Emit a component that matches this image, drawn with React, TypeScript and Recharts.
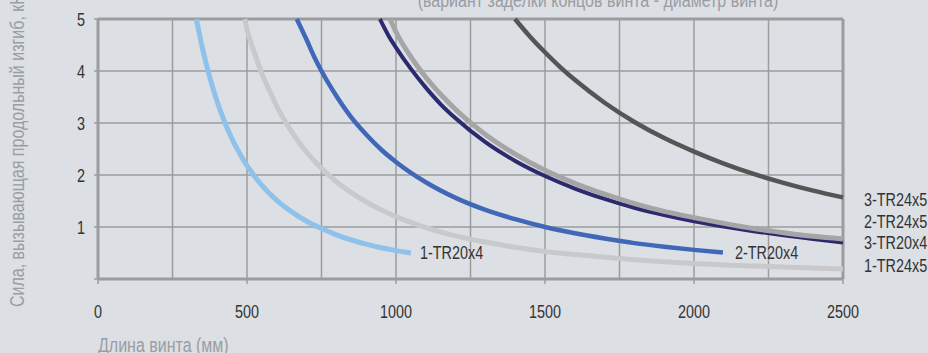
import { LineChart, Line, XAxis, YAxis, CartesianGrid, ReferenceLine } from "recharts";

// Buckling force (kN) vs screw length (mm).
const len1TR20x4 = [330, 350, 375, 400, 425, 450, 475, 500, 550, 600, 650, 700, 750, 800, 850, 900, 950, 1000, 1050];
const force1TR20x4 = [5.0, 4.45, 3.88, 3.41, 3.02, 2.69, 2.42, 2.18, 1.8, 1.51, 1.29, 1.11, 0.97, 0.85, 0.75, 0.67, 0.6, 0.545, 0.5];

const len1TR24x5 = [493, 500, 525, 550, 575, 600, 650, 700, 750, 800, 850, 900, 950, 1000, 1100, 1200, 1300, 1400, 1500, 1600, 1700, 1800, 1900, 2000, 2100, 2200, 2300, 2400, 2500];
const force1TR24x5 = [5.0, 4.8, 4.35, 3.95, 3.63, 3.32, 2.83, 2.44, 2.13, 1.87, 1.66, 1.48, 1.33, 1.2, 0.99, 0.83, 0.71, 0.61, 0.53, 0.47, 0.42, 0.37, 0.33, 0.3, 0.27, 0.25, 0.23, 0.21, 0.19];

const len2TR20x4 = [667, 700, 725, 750, 800, 850, 900, 950, 1000, 1100, 1200, 1300, 1400, 1500, 1600, 1700, 1800, 1900, 2000, 2097];
const force2TR20x4 = [5.0, 4.6, 4.28, 4.0, 3.52, 3.11, 2.78, 2.49, 2.25, 1.86, 1.56, 1.33, 1.15, 1.0, 0.88, 0.78, 0.69, 0.62, 0.56, 0.51];

const len3TR20x4 = [946, 975, 1000, 1050, 1100, 1150, 1200, 1300, 1400, 1500, 1600, 1700, 1800, 1900, 2000, 2100, 2200, 2300, 2400, 2500];
const force3TR20x4 = [5.0, 4.68, 4.45, 4.04, 3.68, 3.36, 3.09, 2.63, 2.27, 1.98, 1.74, 1.54, 1.37, 1.23, 1.11, 1.01, 0.92, 0.84, 0.77, 0.7];

const len2TR24x5 = [980, 1000, 1050, 1100, 1150, 1200, 1300, 1400, 1500, 1600, 1700, 1800, 1900, 2000, 2100, 2200, 2300, 2400, 2500];
const force2TR24x5 = [5.0, 4.75, 4.27, 3.88, 3.55, 3.26, 2.78, 2.4, 2.09, 1.84, 1.63, 1.45, 1.3, 1.18, 1.07, 0.97, 0.89, 0.82, 0.77];

const len3TR24x5 = [1399, 1450, 1500, 1550, 1600, 1700, 1800, 1900, 2000, 2100, 2200, 2300, 2400, 2500];
const force3TR24x5 = [5.0, 4.66, 4.36, 4.08, 3.83, 3.39, 3.02, 2.71, 2.45, 2.22, 2.02, 1.85, 1.7, 1.57];

const xTicks = [0, 250, 500, 750, 1000, 1250, 1500, 1750, 2000, 2250, 2500];
const yTicks = [0, 1, 2, 3, 4, 5];

const zip = (ls: number[], fs: number[]) => ls.map((l, i) => ({ l, f: fs[i] }));

// narrow look: Arial-metric font squeezed horizontally
const FONT = '"Liberation Sans", Arial, sans-serif';
const SQ = 0.8;
const AXIS = "#9c9c9c";
const TEXT = "#333333";
const TITLE = "#9a9da2";

const series = [
  { name: "1-TR20x4", data: zip(len1TR20x4, force1TR20x4), color: "#8ec2ea", w: 5 },
  { name: "1-TR24x5", data: zip(len1TR24x5, force1TR24x5), color: "#c9c9cb", w: 5 },
  { name: "2-TR20x4", data: zip(len2TR20x4, force2TR20x4), color: "#4067b8", w: 4.5 },
  { name: "3-TR20x4", data: zip(len3TR20x4, force3TR20x4), color: "#2b2a6e", w: 4 },
  { name: "2-TR24x5", data: zip(len2TR24x5, force2TR24x5), color: "#a5a5a7", w: 5 },
  { name: "3-TR24x5", data: zip(len3TR24x5, force3TR24x5), color: "#555555", w: 4.5 },
];

const NText = ({ x, y, anchor = "start", size = 18, fill = TEXT, rotate = 0, children }: any) => (
  <text
    transform={`translate(${x} ${y}) rotate(${rotate}) scale(${SQ} 1)`}
    textAnchor={anchor}
    fill={fill}
    fontSize={size}
    fontFamily={FONT}
  >
    {children}
  </text>
);

const XTick = ({ x, y, payload }: any) => {
  if (payload.value % 500 !== 0) return <g />;
  return (
    <g>
      <line x1={x} x2={x} y1={y} y2={y + 5} stroke={AXIS} strokeWidth={1.5} />
      <NText x={x} y={y + 39} anchor="middle">
        {payload.value}
      </NText>
    </g>
  );
};

const YTick = ({ x, y, payload }: any) => (
  <g>
    <line x1={x - 4} x2={x} y1={y} y2={y} stroke={AXIS} strokeWidth={1.5} />
    {payload.value !== 0 && (
      <NText x={x - 13} y={y + 6.5} anchor="end">
        {payload.value}
      </NText>
    )}
  </g>
);

const sideLabels = [
  { text: "3-TR24x5", x: 864, y: 206 },
  { text: "2-TR24x5", x: 864, y: 228 },
  { text: "3-TR20x4", x: 864, y: 249 },
  { text: "1-TR24x5", x: 864, y: 272 },
  { text: "1-TR20x4", x: 420, y: 259 },
  { text: "2-TR20x4", x: 735, y: 259 },
];

export default function App() {
  return (
    <div style={{ position: "absolute", left: 0, top: 0, width: 928, height: 353, background: "#dcdfe4", overflow: "hidden" }}>
      <LineChart width={928} height={353} margin={{ top: 19, right: 85, bottom: 0, left: 0 }}>
        <CartesianGrid stroke={AXIS} strokeWidth={1.5} />
        <XAxis
          type="number"
          dataKey="l"
          domain={[0, 2500]}
          ticks={xTicks}
          interval={0}
          height={74}
          tickSize={0}
          tickMargin={0}
          tickLine={false}
          tick={<XTick />}
          axisLine={{ stroke: AXIS, strokeWidth: 3 }}
          allowDuplicatedCategory={false}
        />
        <YAxis
          type="number"
          dataKey="f"
          domain={[0, 5]}
          ticks={yTicks}
          interval={0}
          width={98}
          tickSize={0}
          tickMargin={0}
          tickLine={false}
          tick={<YTick />}
          axisLine={{ stroke: AXIS, strokeWidth: 3 }}
        />
        <ReferenceLine y={5} stroke={AXIS} strokeWidth={3} />
        <ReferenceLine x={2500} stroke={AXIS} strokeWidth={3} />
        {series.map((s) => (
          <Line
            key={s.name}
            data={s.data}
            dataKey="f"
            type="monotone"
            stroke={s.color}
            strokeWidth={s.w}
            dot={false}
            isAnimationActive={false}
          />
        ))}
      </LineChart>
      <svg width={928} height={353} style={{ position: "absolute", left: 0, top: 0, pointerEvents: "none" }}>
        <NText x={598} y={7} anchor="middle" size={20} fill={TITLE}>
          (вариант заделки концов винта - диаметр винта)
        </NText>
        <NText x={24} y={307} rotate={-90} size={20} fill={TITLE}>
          Сила, вызывающая продольный изгиб, кН
        </NText>
        <NText x={98} y={352} size={20} fill={TITLE}>
          Длина винта (мм)
        </NText>
        {sideLabels.map((t) => (
          <NText key={t.text} x={t.x} y={t.y}>
            {t.text}
          </NText>
        ))}
      </svg>
    </div>
  );
}
